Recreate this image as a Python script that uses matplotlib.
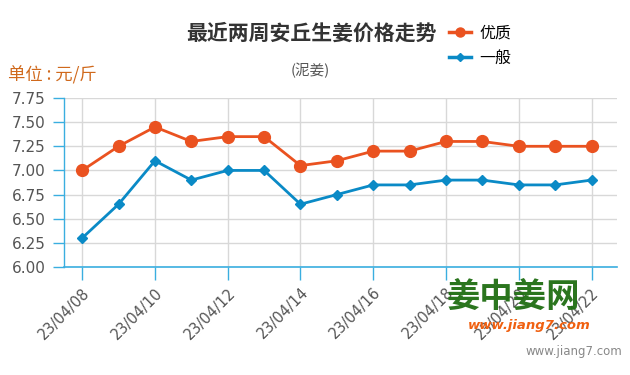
import matplotlib
matplotlib.use("Agg")
import matplotlib.pyplot as plt
from matplotlib.lines import Line2D

dates = ["23/04/08", "23/04/09", "23/04/10", "23/04/11", "23/04/12", "23/04/13", "23/04/14",
         "23/04/15", "23/04/16", "23/04/17", "23/04/18", "23/04/19", "23/04/20", "23/04/21", "23/04/22"]
youzhi = [7.00, 7.25, 7.45, 7.30, 7.35, 7.35, 7.05, 7.10, 7.20, 7.20, 7.30, 7.30, 7.25, 7.25, 7.25]
yiban = [6.30, 6.65, 7.10, 6.90, 7.00, 7.00, 6.65, 6.75, 6.85, 6.85, 6.90, 6.90, 6.85, 6.85, 6.90]
yticks = [6.00, 6.25, 6.50, 6.75, 7.00, 7.25, 7.50, 7.75]
series_names = ["优质", "一般"]

CJK = ["Noto Sans CJK SC", "DejaVu Sans"]
ORANGE = "#ea5220"
BLUE = "#0a8ac6"
AXBLUE = "#3aaee0"

fig = plt.figure(figsize=(6.3, 3.75), dpi=100)
ax = fig.add_axes([64/630, 1-267/375, (617-64)/630, (267-98)/375])

x = list(range(len(dates)))
ax.plot(x, youzhi, color=ORANGE, lw=2.0, marker="o", ms=8.5, zorder=3)
ax.plot(x, yiban, color=BLUE, lw=2.0, marker="D", ms=5.5, zorder=3)

ax.set_xlim(-0.5, 14.7)
ax.set_ylim(6.0, 7.75)
ax.set_yticks(yticks)
ax.set_yticklabels([f"{v:.2f}" for v in yticks])
ax.set_xticks(x[::2])
ax.set_xticklabels(dates[::2], rotation=45, ha="right", va="top", rotation_mode="anchor")

ax.grid(True, color="#d8d8d8", lw=1)
ax.set_axisbelow(True)
for s in ["top", "right"]:
    ax.spines[s].set_visible(False)
ax.spines["left"].set_color(AXBLUE)
ax.spines["bottom"].set_color(AXBLUE)
ax.spines["left"].set_linewidth(1)
ax.spines["bottom"].set_linewidth(1.2)
ax.tick_params(axis="y", colors=AXBLUE, length=8, width=1, labelcolor="#555555", labelsize=11, pad=5)
ax.tick_params(axis="x", colors=AXBLUE, length=9, width=1, labelcolor="#555555", labelsize=10.5, pad=4)

fig.text(311/630, 1-33/375, "最近两周安丘生姜价格走势", family=CJK, fontsize=15, fontweight="bold",
         color="#333333", ha="center", va="center")
fig.text(310/630, 1-70/375, "(泥姜)", family=CJK, fontsize=10.5, color="#555555", ha="center", va="center")
fig.text(8/630, 1-75/375, "单位 : 元/斤", family=CJK, fontsize=12.5, color="#d0691c", ha="left", va="center")

handles = [Line2D([], [], color=ORANGE, lw=2.5, marker="o", ms=6.5),
           Line2D([], [], color=BLUE, lw=2.5, marker="D", ms=4.5)]
fig.legend(handles=handles, labels=series_names, loc="upper left",
           bbox_to_anchor=(449/630, 1-25/375), frameon=False, prop={"family": CJK, "size": 11.5},
           handlelength=1.4, handletextpad=0.5, labelspacing=0.48, borderaxespad=0, borderpad=0)

fig.text(513/630, 1-297/375, "姜中姜网", family=CJK, fontsize=24, fontweight="bold", color="#1f6e12",
         ha="center", va="center", alpha=0.95)
fig.text(529/630, 1-325/375, "www.jiang7.com", fontsize=9.5, fontweight="bold", style="italic",
         color="#f06010", ha="center", va="center")
fig.text(622/630, 1-352/375, "www.jiang7.com", fontsize=8.5, color="#888888", ha="right", va="center")

fig.savefig("out.png", dpi=100)
